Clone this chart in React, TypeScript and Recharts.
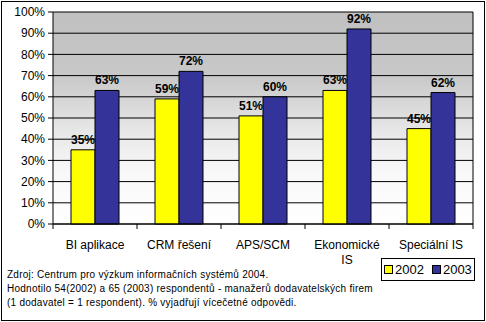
import React from "react";
import {
  BarChart,
  Bar,
  XAxis,
  YAxis,
  CartesianGrid,
  LabelList,
} from "recharts";

const categories = ["BI aplikace", "CRM řešení", "APS/SCM", "Ekonomické IS", "Speciální IS"];
const values2002 = [35, 59, 51, 63, 45];
const values2003 = [63, 72, 60, 92, 62];
const yTicks = [0, 10, 20, 30, 40, 50, 60, 70, 80, 90, 100];
const notes = [
  "Zdroj: Centrum pro výzkum informačních systémů 2004.",
  "Hodnotilo 54(2002) a 65 (2003) respondentů - manažerů dodavatelských firem",
  "(1 dodavatel = 1 respondent). % vyjadřují vícečetné odpovědi.",
];

const YELLOW = "#ffff00";
const NAVY = "#333399";
const FONT = "Arial, sans-serif";

const data = categories.map((name, i) => ({
  name,
  y2002: values2002[i],
  y2003: values2003[i],
}));

// Excel wraps only the long category name
function wrap(label: string) {
  if (label.length <= 12) return [label];
  const cut = label.lastIndexOf(" ");
  return [label.slice(0, cut), label.slice(cut + 1)];
}

// category ticks with separator marks on the band edges
function CategoryTick(props: any) {
  const { x, y, payload, index } = props;
  const half = payload?.offset ?? 42;
  const axisY = y - 7;
  const lines = wrap(String(payload.value));
  return (
    <g>
      <line x1={x - half} x2={x - half} y1={axisY} y2={axisY + 5} stroke="#000" />
      {index === categories.length - 1 && (
        <line x1={x + half} x2={x + half} y1={axisY} y2={axisY + 5} stroke="#000" />
      )}
      <text x={x} y={y + 18} textAnchor="middle" fontSize={12} fontFamily={FONT} fill="#000">
        {lines.map((l, i) => (
          <tspan key={i} x={x} dy={i === 0 ? 0 : 15}>
            {l}
          </tspan>
        ))}
      </text>
    </g>
  );
}

export default function App() {
  return (
    <div style={{ position: "absolute", left: 0, top: 0, width: 486, height: 322 }}>
      <BarChart
        width={486}
        height={322}
        data={data}
        margin={{ top: 12, right: 12, left: 0, bottom: 68 }}
        barGap={0}
        barSize={24}
      >
        <defs>
          <linearGradient id="plotBg" x1="0" y1="0" x2="0" y2="1">
            <stop offset="0" stopColor="#c0c0c0" />
            <stop offset="0.3" stopColor="#c8c8c8" />
            <stop offset="0.55" stopColor="#e6e6e6" />
            <stop offset="0.75" stopColor="#f8f8f8" />
            <stop offset="1" stopColor="#ffffff" />
          </linearGradient>
        </defs>
        <CartesianGrid vertical={false} stroke="#000" fill="url(#plotBg) #d8d8d8" fillOpacity={1} />
        <XAxis
          dataKey="name"
          interval={0}
          height={30}
          tickLine={false}
          tickSize={5}
          tickMargin={2}
          axisLine={{ stroke: "#000" }}
          tick={<CategoryTick />}
        />
        <YAxis
          width={53}
          domain={[0, 100]}
          ticks={yTicks}
          interval={0}
          tickSize={5}
          tickMargin={3}
          axisLine={{ stroke: "#000" }}
          tickLine={{ stroke: "#000" }}
          tick={{ fontSize: 12, fill: "#000", fontFamily: FONT }}
          tickFormatter={(v) => `${v}%`}
        />
        <YAxis
          yAxisId="edge"
          orientation="right"
          width={1}
          domain={[0, 100]}
          tick={false}
          tickLine={false}
          axisLine={{ stroke: "#000" }}
        />
        <Bar dataKey="y2002" fill={YELLOW} stroke="#000" isAnimationActive={false}>
          <LabelList
            dataKey="y2002"
            position="top"
            offset={6}
            formatter={(v: any) => `${v}%`}
            style={{ fontSize: 12, fontWeight: "bold", fill: "#000", fontFamily: FONT }}
          />
        </Bar>
        <Bar dataKey="y2003" fill={NAVY} stroke="#000" isAnimationActive={false}>
          <LabelList
            dataKey="y2003"
            position="top"
            offset={6}
            formatter={(v: any) => `${v}%`}
            style={{ fontSize: 12, fontWeight: "bold", fill: "#000", fontFamily: FONT }}
          />
        </Bar>
      </BarChart>

      {notes.map((line, i) => (
        <div
          key={i}
          style={{
            position: "absolute",
            left: 7,
            top: 269 + i * 14,
            fontSize: 10,
            lineHeight: "12px",
            whiteSpace: "nowrap",
            letterSpacing: 0.25,
            fontFamily: FONT,
          }}
        >
          {line}
        </div>
      ))}

      <div
        style={{
          position: "absolute",
          left: 381,
          top: 258,
          width: 92,
          height: 21,
          border: "1px solid #000",
          display: "flex",
          alignItems: "center",
          fontSize: 13,
          fontFamily: FONT,
        }}
      >
        <span style={{ width: 7, height: 7, background: YELLOW, border: "1px solid #000", marginLeft: 2, marginRight: 2 }} />
        <span>2002</span>
        <span style={{ width: 7, height: 7, background: NAVY, border: "1px solid #000", marginLeft: 8, marginRight: 2 }} />
        <span>2003</span>
      </div>

      <div
        style={{
          position: "absolute",
          left: 1,
          top: 1,
          width: 482,
          height: 318,
          border: "1px solid #000",
          pointerEvents: "none",
        }}
      />
    </div>
  );
}
